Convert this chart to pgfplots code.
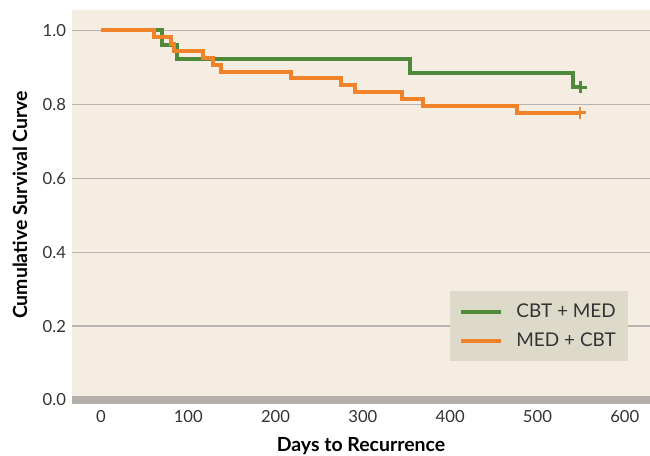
\documentclass[border=0pt]{standalone}
\usepackage{pgfplots}
\pgfplotsset{compat=1.18}
\usepackage{fontspec}
\setmainfont{Lato}
\definecolor{bgc}{HTML}{F5EDE1}
\definecolor{legc}{HTML}{DEDACA}
\definecolor{gridc}{HTML}{B8B3AE}
\definecolor{bandc}{HTML}{B5AFA9}
\definecolor{greenc}{HTML}{4E8A3A}
\definecolor{orangec}{HTML}{F0822A}
\definecolor{txt}{HTML}{333333}
\begin{document}
\begin{tikzpicture}
\path[use as bounding box] (-54pt,-42pt) rectangle (433.5pt,300pt);
\begin{axis}[
  at={(0,0)}, anchor=south west,
  scale only axis, width=433.5pt, height=292.5pt,
  xmin=-33.2, xmax=628.9, ymin=0, ymax=1.0555,
  axis background/.style={fill=bgc},
  axis line style={draw=none},
  xtick={0,100,...,600},
  ytick={0,0.2,...,1.0},
  yticklabel={\pgfmathprintnumber[fixed,fixed zerofill,precision=1]{\tick}},
  /pgf/number format/assume math mode=true,
  ymajorgrids, grid style={gridc, line width=1pt},
  major tick length=0pt,
  tick label style={font=\fontsize{12.5}{14}\selectfont, text=txt},
  xticklabel style={yshift=-4.5pt},
  yticklabel style={xshift=-1pt},
  xlabel={\textbf{Days to Recurrence}},
  ylabel={\textbf{Cumulative Survival Curve}},
  label style={font=\fontsize{14.6}{16}\selectfont, text=black},
  xlabel style={at={(axis description cs:0.5,0)}, anchor=base, yshift=-38.8pt},
  ylabel style={at={(axis description cs:0,0.5)}, anchor=center, yshift=39pt},
  legend style={at={(rel axis cs:0.962,0.2795)}, anchor=north east,
    fill=legc, draw=none, font=\fontsize{14.2}{16}\selectfont, text=txt,
    inner xsep=7pt, inner ysep=7.5pt, row sep=6pt,
    /tikz/every odd column/.append style={column sep=8pt}},
  legend cell align=left,
  legend image code/.code={\draw[#1, line width=3pt] (0pt,0pt) -- (30pt,0pt);},
  clip=false,
]
\draw[bandc, line width=5.3pt] (axis cs:-33.2,0) -- (axis cs:628.9,0);
\addplot[greenc, line width=3pt, const plot, mark=none] coordinates {
(0,1.0) (69.5,0.9615) (87.4,0.9231) (354,0.8846) (540.6,0.8462) (549.5,0.8462)};
\addlegendentry{CBT + MED}
\addplot[orangec, line width=3pt, const plot, mark=none] coordinates {
(0,1.0) (60.7,0.9815) (79.8,0.9630) (83.6,0.9444) (117,0.9259) (128.6,0.9074)
(138,0.8889) (218,0.8704) (274.6,0.8519) (291,0.8333) (344.4,0.8148)
(369,0.7963) (476,0.7778) (548.7,0.7778)};
\addlegendentry{MED + CBT}
\addplot[greenc, only marks, mark=+, mark size=4.5pt, mark options={line width=2pt}, forget plot] coordinates {(549.5,0.8462)};
\addplot[orangec, only marks, mark=+, mark size=4.5pt, mark options={line width=2pt}, forget plot] coordinates {(548.7,0.7778)};
\end{axis}
\end{tikzpicture}
\end{document}
